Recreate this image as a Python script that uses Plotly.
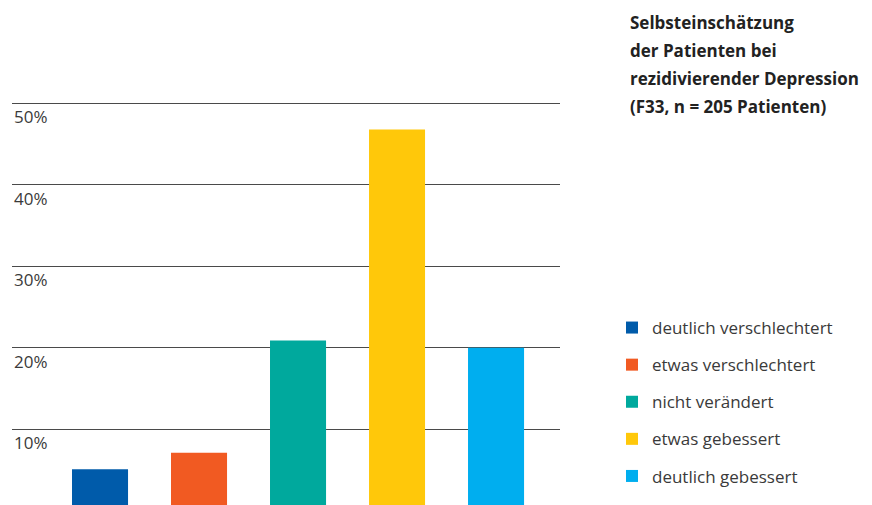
import plotly.graph_objects as go

categories = ["deutlich verschlechtert", "etwas verschlechtert", "nicht verändert",
              "etwas gebessert", "deutlich gebessert"]
values = [5.1, 7.1, 20.9, 46.8, 20.0]
colors = ["#005BAA", "#F15A22", "#00A99D", "#FFC80A", "#00AEEF"]
tick_vals = [10, 20, 30, 40, 50]
tick_labels = ["10%", "20%", "30%", "40%", "50%"]
title_lines = ["Selbsteinschätzung", "der Patienten bei",
               "rezidivierender Depression", "(F33, n = 205 Patienten)"]

W, H = 872, 505
FONT = "Open Sans"

fig = go.Figure()
for i, (cat, val, col) in enumerate(zip(categories, values, colors)):
    fig.add_trace(go.Bar(x=[i], y=[val], name=cat, marker_color=col,
                         marker_line_width=0, width=0.566, legendgroup=cat,
                         hoverinfo="skip"))

annotations = []
for v, t in zip(tick_vals, tick_labels):
    annotations.append(dict(x=12 / W, xref="paper", y=v, yref="y", text=t,
                            showarrow=False, xanchor="left", yanchor="top",
                            yshift=0, font=dict(family=FONT, size=17, color="#3a3a3a")))
for k, line in enumerate(title_lines):
    annotations.append(dict(x=628 / W, xref="paper", y=1 - (9 + 28 * k) / H, yref="paper",
                            text="<b>" + line + "</b>", showarrow=False,
                            xanchor="left", yanchor="top",
                            font=dict(family=FONT, size=17, color="#222222")))

fig.update_layout(
    width=W, height=H,
    margin=dict(l=0, r=0, t=0, b=0),
    paper_bgcolor="white", plot_bgcolor="white",
    barmode="overlay",
    showlegend=True,
    legend=dict(x=612 / W, y=1 - 310 / H, xanchor="left", yanchor="top",
                font=dict(family=FONT, size=17, color="#3a3a3a"),
                tracegroupgap=12, bgcolor="rgba(0,0,0,0)"),
    xaxis=dict(domain=[12 / W, 560 / W], range=[-0.889, 4.646], visible=False,
               fixedrange=True),
    yaxis=dict(range=[0.7, 62.7], tickvals=tick_vals, showticklabels=False,
               showgrid=True, gridcolor="#4a4a4a", gridwidth=1, zeroline=False,
               ticks="", showline=False, fixedrange=True),
    annotations=annotations,
)

fig.write_html("out.html", config={"displayModeBar": False},
               post_script="document.body.style.margin='0';")
